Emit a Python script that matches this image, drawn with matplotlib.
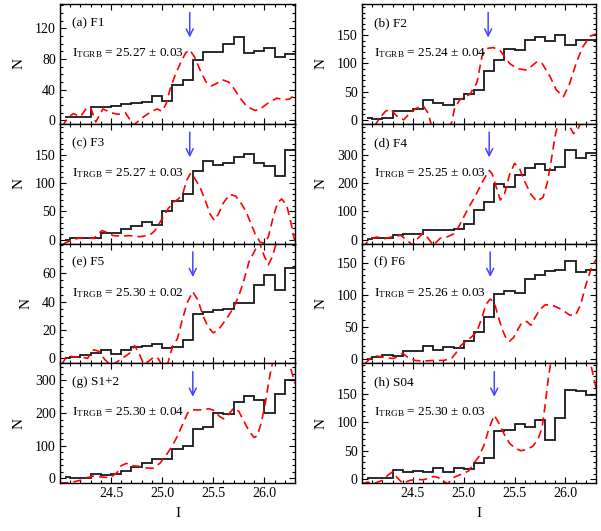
import numpy as np
import matplotlib
matplotlib.use("Agg")
import matplotlib.pyplot as plt
from matplotlib.ticker import MultipleLocator, FixedLocator, FormatStrFormatter

plt.rcParams['font.family'] = ['Liberation Serif', 'DejaVu Serif']
plt.rcParams['mathtext.fontset'] = 'custom'
plt.rcParams['mathtext.rm'] = 'Liberation Serif'
plt.rcParams['mathtext.it'] = 'Liberation Serif:italic'

# 直方图 bin 中心 (I 星等)
bin_centers = np.round(np.arange(24.05, 26.3, 0.1), 2)

# 各区域的直方图计数 (黑色实线)
hist_f1 = [5, 5, 4, 17, 17, 19, 21, 23, 24, 32, 25, 46, 53, 79, 89, 89, 100, 109, 88, 90, 95, 82, 86]
hist_f2 = [3, 1, 4, 15, 16, 20, 35, 30, 27, 36, 45, 53, 87, 106, 125, 123, 142, 147, 140, 150, 133, 141, 141]
hist_f3 = [0, 2, 3, 3, 12, 12, 19, 24, 31, 26, 51, 68, 80, 121, 139, 132, 135, 147, 152, 135, 130, 112, 158]
hist_f4 = [2, 4, 7, 15, 21, 18, 35, 33, 33, 39, 56, 104, 133, 198, 186, 227, 253, 268, 248, 256, 318, 288, 307]
hist_f5 = [0, 1, 2, 4, 6, 3, 6, 8, 9, 10, 7, 8, 13, 31, 33, 34, 35, 39, 39, 52, 59, 48, 64]
hist_f6 = [0, 3, 6, 4, 12, 12, 20, 13, 18, 16, 27, 42, 65, 101, 106, 103, 124, 131, 137, 139, 152, 135, 139]
hist_s12 = [5, 0, 1, 12, 11, 13, 23, 36, 46, 58, 58, 89, 99, 151, 156, 201, 196, 234, 252, 241, 201, 259, 301]
hist_s04 = [2, 2, 2, 16, 13, 15, 13, 19, 12, 20, 18, 29, 38, 85, 86, 96, 91, 103, 69, 108, 157, 154, 147]

# 边缘检测响应曲线 (红色虚线)
curve_x_f1 = [24.02, 24.07, 24.13, 24.2, 24.26, 24.3, 24.35, 24.42, 24.5, 24.57, 24.64, 24.72, 24.82, 24.9,
              24.95, 25.0, 25.04, 25.08, 25.13, 25.18, 25.23, 25.27, 25.32, 25.37, 25.43, 25.48, 25.53, 25.59,
              25.65, 25.7, 25.77, 25.83, 25.91, 25.97, 26.03, 26.12, 26.2, 26.25, 26.3]
curve_y_f1 = [-8, 2, 9, 5, 16, 17, -2, 15, 10, 8, 10, -6, 5, 12, 15, 12, 22, 42, 60, 75, 88, 92, 82, 66, 50,
              45, 48, 53, 50, 42, 28, 18, 13, 16, 22, 29, 27, 28, 34]

curve_x_f2 = [24.12, 24.17, 24.23, 24.28, 24.34, 24.41, 24.47, 24.53, 24.6, 24.65, 24.68, 24.75, 24.85, 24.88,
              24.91, 24.96, 25.01, 25.06, 25.13, 25.18, 25.22, 25.29, 25.36, 25.45, 25.52, 25.62, 25.72, 25.77,
              25.85, 25.91, 25.98, 26.04, 26.11, 26.17, 26.24, 26.3]
curve_y_f2 = [-12, 2, 15, 19, 7, 0, 12, 20, 25, 12, -8, -20, -15, -5, 20, 35, 41, 45, 66, 113, 126, 128, 122,
              100, 91, 88, 103, 100, 76, 53, 41, 64, 103, 129, 148, 152]

curve_x_f3 = [24.03, 24.1, 24.17, 24.25, 24.33, 24.41, 24.47, 24.52, 24.6, 24.68, 24.78, 24.88, 24.93, 24.97,
              25.01, 25.06, 25.11, 25.16, 25.2, 25.24, 25.28, 25.32, 25.37, 25.42, 25.47, 25.51, 25.55, 25.6,
              25.66, 25.72, 25.77, 25.82, 25.87, 25.91, 25.96, 26.0, 26.04, 26.09, 26.13, 26.17, 26.22, 26.26, 26.3]
curve_y_f3 = [-8, -2, 2, 4, 2, 16, 12, 7, 6, 7, 5, 8, 16, 28, 40, 55, 66, 72, 80, 105, 118, 108, 93, 70, 45, 34,
              45, 65, 80, 77, 65, 50, 28, 10, -5, -6, 5, 42, 65, 72, 60, 30, -5]

curve_x_f4 = [24.0, 24.05, 24.1, 24.15, 24.22, 24.3, 24.38, 24.44, 24.5, 24.55, 24.6, 24.65, 24.7, 24.77, 24.84,
              24.9, 24.95, 25.0, 25.05, 25.1, 25.15, 25.2, 25.25, 25.28, 25.32, 25.36, 25.4, 25.45, 25.5, 25.55,
              25.6, 25.66, 25.72, 25.78, 25.82, 25.86, 25.9, 25.95, 26.0, 26.04, 26.08, 26.12, 26.16, 26.2,
              26.25, 26.3]
curve_y_f4 = [-30, -10, 5, 9, 3, 10, 15, -2, -20, 5, 22, 5, -20, 5, 10, 20, 45, 80, 115, 145, 180, 215, 245, 232,
              185, 140, 160, 230, 270, 250, 205, 160, 135, 150, 200, 280, 370, 440, 470, 400, 375, 390, 420,
              460, 480, 480]

curve_x_f5 = [24.02, 24.07, 24.13, 24.2, 24.27, 24.33, 24.38, 24.44, 24.5, 24.57, 24.63, 24.69, 24.73, 24.77,
              24.82, 24.87, 24.92, 24.96, 25.0, 25.05, 25.1, 25.15, 25.2, 25.25, 25.3, 25.35, 25.4, 25.45, 25.5,
              25.55, 25.6, 25.65, 25.7, 25.75, 25.8, 25.85, 25.9, 25.95, 26.0, 26.04, 26.08, 26.12, 26.16, 26.2,
              26.3]
curve_y_f5 = [-4, 2, 1, 1, 0, 6, 5, -1, -5, -2, 1, 4, 9, 4, -4, -2, 1, 0, -5, -5, 8, 14, 28, 40, 47, 41, 30,
              22, 18, 20, 25, 30, 36, 44, 55, 68, 75, 82, 72, 66, 72, 82, 90, 95, 100]

curve_x_f6 = [24.03, 24.08, 24.13, 24.19, 24.25, 24.31, 24.36, 24.4, 24.45, 24.52, 24.6, 24.7, 24.8, 24.88,
              24.93, 24.97, 25.02, 25.07, 25.13, 25.18, 25.22, 25.26, 25.3, 25.34, 25.38, 25.42, 25.45, 25.49,
              25.53, 25.57, 25.62, 25.66, 25.7, 25.75, 25.8, 25.86, 25.92, 25.98, 26.04, 26.1, 26.15, 26.2,
              26.25, 26.3]
curve_y_f6 = [-8, 0, 4, 3, 1, 0, 4, 8, 2, -3, -4, -3, -3, 0, 10, 20, 27, 33, 42, 65, 85, 93, 88, 65, 45, 30, 27,
              33, 45, 56, 58, 52, 64, 77, 84, 84, 80, 75, 68, 68, 85, 115, 140, 155]

curve_x_s12 = [24.0, 24.07, 24.14, 24.21, 24.26, 24.33, 24.42, 24.49, 24.56, 24.6, 24.65, 24.7, 24.77, 24.85,
               24.91, 24.98, 25.05, 25.1, 25.15, 25.2, 25.25, 25.3, 25.35, 25.4, 25.46, 25.51, 25.56, 25.6,
               25.65, 25.7, 25.75, 25.8, 25.85, 25.9, 25.93, 25.97, 26.01, 26.04, 26.07, 26.1, 26.15, 26.2,
               26.25, 26.3]
curve_y_s12 = [-14, -13, -10, -5, 2, 7, 4, 2, 18, 39, 46, 39, 37, 32, 31, 47, 76, 100, 130, 165, 200, 210, 209,
               210, 213, 207, 190, 182, 195, 215, 205, 175, 145, 125, 130, 170, 230, 290, 340, 370, 390, 380,
               345, 290]

curve_x_s04 = [24.0, 24.05, 24.12, 24.2, 24.26, 24.3, 24.34, 24.4, 24.47, 24.54, 24.6, 24.66, 24.7, 24.75, 24.8,
               24.84, 24.9, 24.95, 25.0, 25.05, 25.1, 25.15, 25.2, 25.25, 25.3, 25.34, 25.4, 25.45, 25.5, 25.56,
               25.62, 25.68, 25.73, 25.77, 25.8, 25.83, 25.86, 25.9, 26.0, 26.1, 26.2, 26.25, 26.3]
curve_y_s04 = [-8, -5, -7, -2, 8, 13, 4, -7, -2, 0, -1, 2, 5, 3, -3, -8, 3, 7, 10, 15, 28, 40, 60, 90, 112,
               100, 78, 63, 55, 50, 52, 58, 70, 90, 130, 175, 210, 240, 270, 270, 240, 200, 160]

panel_names = ['(a) F1', '(b) F2', '(c) F3', '(d) F4', '(e) F5', '(f) F6', '(g) S1+2', '(h) S04']
trgb_labels = ['TGRB', 'TGRB', 'TRGB', 'TRGB', 'TRGB', 'TRGB', 'TRGB', 'TRGB']
trgb_values = [25.27, 25.24, 25.27, 25.25, 25.30, 25.26, 25.30, 25.30]
trgb_errors = [0.03, 0.04, 0.03, 0.03, 0.02, 0.03, 0.04, 0.03]
y_limits = [(-4.3, 151.6), (-7, 205), (-7, 205), (-14, 410), (-3.5, 81), (-7.4, 180), (-14, 352), (-6.5, 203)]
y_ticks = [[0, 40, 80, 120], [0, 50, 100, 150], [0, 50, 100, 150], [0, 100, 200, 300],
           [0, 20, 40, 60], [0, 50, 100, 150], [0, 100, 200, 300], [0, 50, 100, 150]]
y_minor = [10, 10, 10, 20, 5, 10, 20, 10]
x_ticks = [24.5, 25.0, 25.5, 26.0]

hists = [hist_f1, hist_f2, hist_f3, hist_f4, hist_f5, hist_f6, hist_s12, hist_s04]
curves = [(curve_x_f1, curve_y_f1), (curve_x_f2, curve_y_f2), (curve_x_f3, curve_y_f3),
          (curve_x_f4, curve_y_f4), (curve_x_f5, curve_y_f5), (curve_x_f6, curve_y_f6),
          (curve_x_s12, curve_y_s12), (curve_x_s04, curve_y_s04)]

fig = plt.figure(figsize=(6.01, 5.31), dpi=100)

# 面板布局 (两列四行, 无间隔)
col_left = [0.0998, 0.6023]
col_width = [0.391, 0.3894]
row_bottom = 0.0904
row_height = 0.2255

# 直方图边界: IDL psym=10 风格, 从第一个 bin 中心开始
edges = np.concatenate([[bin_centers[0]], bin_centers[:-1] + 0.05, [bin_centers[-1] + 0.05]])

for i in range(8):
    col = i % 2
    row = 3 - i // 2
    ax = fig.add_axes([col_left[col], row_bottom + row * row_height, col_width[col], row_height])

    ax.stairs(hists[i], edges, color='#1a1a1a', lw=1.3, baseline=None)
    ax.plot(curves[i][0], curves[i][1], color='red', lw=1.2, dashes=(5, 3))

    ax.set_xlim(24.0, 26.3)
    ax.set_ylim(*y_limits[i])
    ax.xaxis.set_major_locator(FixedLocator(x_ticks))
    ax.xaxis.set_minor_locator(MultipleLocator(0.1))
    ax.yaxis.set_major_locator(FixedLocator(y_ticks[i]))
    ax.yaxis.set_minor_locator(MultipleLocator(y_minor[i]))
    ax.xaxis.set_major_formatter(FormatStrFormatter('%.1f'))
    ax.tick_params(which='both', direction='in', top=True, right=True, labelsize=10, width=0.8)
    ax.tick_params(which='major', length=4.5, pad=3)
    ax.tick_params(which='minor', length=2.5)
    for sp in ax.spines.values():
        sp.set_linewidth(1.0)

    if i < 6:
        ax.tick_params(labelbottom=False)
    else:
        ax.set_xlabel('I', fontsize=11, labelpad=5)
    ax.set_ylabel('N', fontsize=11, labelpad=7)

    # 标注
    ax.text(0.05, 0.84, panel_names[i], transform=ax.transAxes, fontsize=9.5, va='center')
    ax.text(0.05, 0.59, 'I$_{\\mathrm{%s}}$ = %.2f ± %.2f' % (trgb_labels[i], trgb_values[i], trgb_errors[i]),
            transform=ax.transAxes, fontsize=9.5, va='center')

    # TRGB 位置箭头
    ax.annotate('', xy=(trgb_values[i], 0.72), xytext=(trgb_values[i], 0.93),
                xycoords=('data', 'axes fraction'), textcoords=('data', 'axes fraction'),
                arrowprops=dict(arrowstyle='->,head_length=0.5,head_width=0.25', color='#4646ff', lw=1.1,
                                shrinkA=0, shrinkB=0))

fig.savefig('out.png', dpi=100)
